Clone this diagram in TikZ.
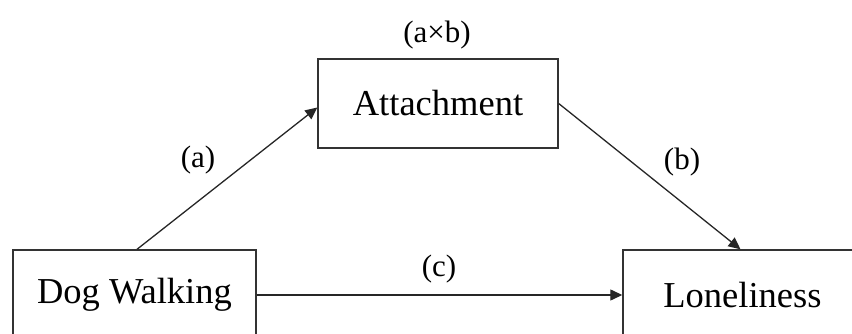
\documentclass[tikz,border=0pt]{standalone}
\usepackage{fontspec}
\setmainfont{Liberation Serif}
\usetikzlibrary{arrows.meta}
\begin{document}
\begin{tikzpicture}[x=1pt,y=-1pt,
  boxnode/.style={draw=black!80,line width=1.4pt,font=\fontsize{36.5}{42}\selectfont,inner sep=0pt},
  lab/.style={font=\fontsize{31}{36}\selectfont,inner sep=0pt},
  conn/.style={draw=black!85,line width=1.3pt,-{Triangle[length=12pt,width=11pt]}}]
\useasboundingbox (0,0) rectangle (852,334);
\clip (0,0) rectangle (852,334);
\node[boxnode,minimum width=243pt,minimum height=90pt] (dog) at (134.5,295) {Dog Walking};
\node[boxnode,minimum width=239pt,minimum height=90pt] (lon) at (742.5,295) {Loneliness};
\node[boxnode,minimum width=240pt,minimum height=89pt] (att) at (438,103.5) {Attachment};
\draw[conn] ([xshift=2.5pt]dog.north) -- ([yshift=-4pt]att.west);
\draw[conn] (att.east) -- ([xshift=-2pt]lon.north);
\draw[conn] (dog.east) -- (lon.west);
\node[lab] (lab) at (437,35) {(a×b)};
\node[lab] (la) at (198,160) {(a)};
\node[lab] (lb) at (682,162) {(b)};
\node[lab] (lc) at (439,269) {(c)};
\end{tikzpicture}
\end{document}
